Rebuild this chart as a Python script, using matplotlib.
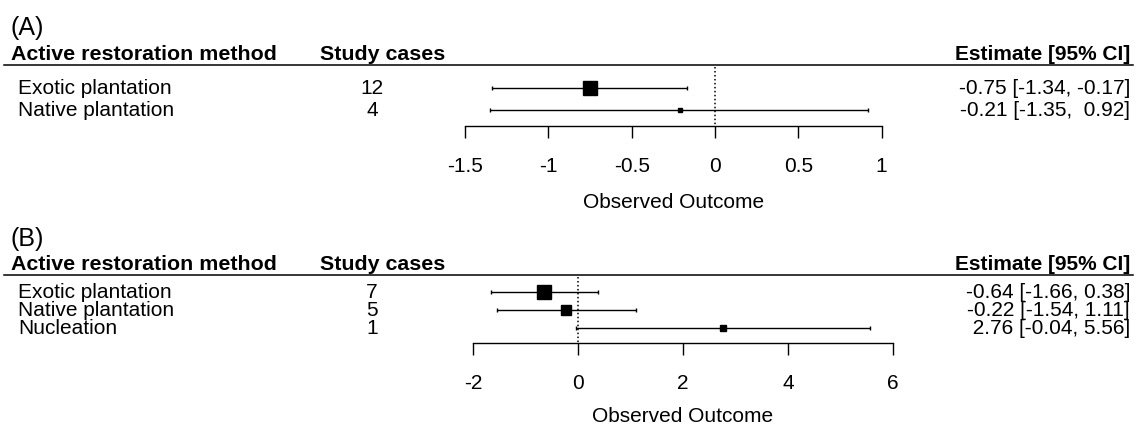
import matplotlib
matplotlib.use("Agg")
import matplotlib.pyplot as plt
from matplotlib.lines import Line2D
from matplotlib.transforms import blended_transform_factory as blend

plt.rcParams['font.family'] = ['Liberation Sans', 'DejaVu Sans']
plt.rcParams['axes.unicode_minus'] = False

# ---------------- data ----------------
methods_a = ["Exotic plantation", "Native plantation"]
cases_a = [12, 4]
est_a = [-0.75, -0.21]
lo_a = [-1.34, -1.35]
hi_a = [-0.17, 0.92]
msize_a = [9.4, 2.3]
ticks_a = [-1.5, -1, -0.5, 0, 0.5, 1]
ticklabels_a = ["-1.5", "-1", "-0.5", "0", "0.5", "1"]

methods_b = ["Exotic plantation", "Native plantation", "Nucleation"]
cases_b = [7, 5, 1]
est_b = [-0.64, -0.22, 2.76]
lo_b = [-1.66, -1.54, -0.04]
hi_b = [0.38, 1.11, 5.56]
msize_b = [9.4, 7.9, 4.3]
ticks_b = [-2, 0, 2, 4, 6]
ticklabels_b = ["-2", "0", "2", "4", "6"]

W, H = 1137, 428
DPI = 100
fig = plt.figure(figsize=(W / DPI, H / DPI), dpi=DPI)
FS = 15
FSB = 15.4
FST = 18


def fmt_col(vals):
    s = [f"{v:.2f}" for v in vals]
    w = max(len(x) for x in s)
    return [x.rjust(w) for x in s]


def panel(top_px, h_px, tag, methods, cases, est, lo, hi, msize, ticks, ticklabels,
          zero_px, unit_px, row0_px, row_step, tag_y, head_y, rule_y, axis_y, xlab_y):
    ax = fig.add_axes([0, 1 - (top_px + h_px) / H, 1, h_px / H])
    n = len(methods)
    rows = list(range(n))
    # x-limits so that data maps to reference pixel positions
    ax.set_xlim(-zero_px / unit_px, (W - zero_px) / unit_px)
    r0 = row0_px - top_px
    ax.set_ylim((h_px - r0) / row_step, -r0 / row_step)

    def yd(pix):  # figure pixel y -> data y
        return (pix - row0_px) / row_step

    for sp in ["top", "left", "right"]:
        ax.spines[sp].set_visible(False)
    ax.spines["bottom"].set_position(("data", yd(axis_y)))
    ax.spines["bottom"].set_bounds(ticks[0], ticks[-1])
    ax.spines["bottom"].set_linewidth(1.0)
    ax.set_yticks([])
    ax.set_xticks(ticks)
    ax.set_xticklabels(ticklabels, fontsize=FS)
    ax.tick_params(axis="x", direction="out", length=8.5, width=1.0, pad=13.5)
    ax.patch.set_visible(False)

    # CI bars and squares
    for i in rows:
        ax.errorbar(est[i], i, xerr=[[est[i] - lo[i]], [hi[i] - est[i]]], fmt="none",
                    ecolor="black", elinewidth=1.0, capsize=1.2, capthick=1.0)
        ax.plot(est[i], i, marker="s", ms=msize[i], color="black", mec="black", zorder=5)

    # dotted reference line
    ax.plot([0, 0], [yd(rule_y + 2), yd(axis_y)], color="black", lw=1.1,
            linestyle=(0, (1, 1.6)), zorder=1)

    tr = blend(fig.transFigure, ax.transData)
    e_s, l_s, h_s = fmt_col(est), fmt_col(lo), fmt_col(hi)
    for i in rows:
        ax.text(18 / W, i, methods[i], transform=tr, fontsize=FS, ha="left", va="center")
        ax.text(372 / W, i, str(cases[i]), transform=tr, fontsize=FS, ha="center", va="center")
        ax.text(1130 / W, i, f"{e_s[i]} [{l_s[i]}, {h_s[i]}]", transform=tr, fontsize=FS,
                ha="right", va="center")

    # headers
    fig.text(10 / W, 1 - tag_y / H, tag, fontsize=FST, ha="left", va="center")
    fig.text(11 / W, 1 - head_y / H, "Active restoration method", fontsize=FSB,
             fontweight="bold", ha="left", va="center")
    fig.text(320 / W, 1 - head_y / H, "Study cases", fontsize=FSB,
             fontweight="bold", ha="left", va="center")
    fig.text(1130 / W, 1 - head_y / H, "Estimate [95% CI]", fontsize=FSB - 0.4,
             fontweight="bold", ha="right", va="center")
    fig.add_artist(Line2D([4 / W, 1133 / W], [1 - rule_y / H] * 2, color="black", lw=1.1))

    # x label centred on axis range
    trx = blend(ax.transData, fig.transFigure)
    ax.text((ticks[0] + ticks[-1]) / 2, 1 - xlab_y / H, "Observed Outcome", transform=trx,
            fontsize=FS, ha="center", va="center")
    return ax


panel(0, 214, "(A)", methods_a, cases_a, est_a, lo_a, hi_a, msize_a, ticks_a, ticklabels_a,
      zero_px=715, unit_px=166.6, row0_px=88, row_step=22,
      tag_y=28, head_y=55, rule_y=65, axis_y=126, xlab_y=202)

panel(214, 214, "(B)", methods_b, cases_b, est_b, lo_b, hi_b, msize_b, ticks_b, ticklabels_b,
      zero_px=578, unit_px=52.5, row0_px=292, row_step=18,
      tag_y=239, head_y=265, rule_y=275, axis_y=343, xlab_y=417)

fig.savefig("out.png", dpi=DPI)
